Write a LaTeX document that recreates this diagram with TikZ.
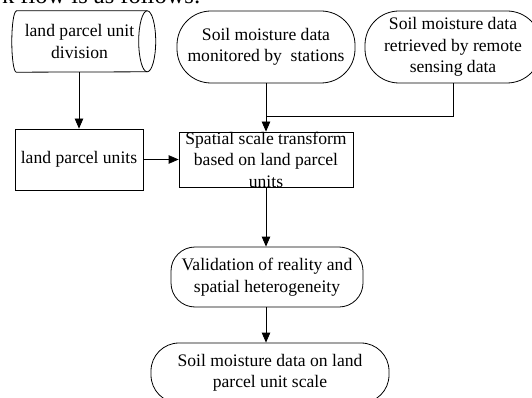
\documentclass[tikz,border=0pt]{standalone}
\usepackage{fontspec}
\setmainfont{Liberation Serif}
\usetikzlibrary{arrows.meta}
\begin{document}
\begin{tikzpicture}[x=1pt,y=-1pt,
  every node/.style={font=\fontsize{17.6}{21.5}\selectfont, align=center, inner sep=0pt},
  ln/.style={line width=0.8pt},
  arr/.style={ln,-{Triangle[length=10pt,width=8.5pt]}},
  boxnode/.style={draw,ln},
  stadium/.style={draw,ln,rounded corners=#1},
]
\useasboundingbox (0,0) rectangle (532,398);

% cut-off caption line at the top
\node[anchor=base east,font=\fontsize{24.5}{29}\selectfont] (cap) at (201,4) {work flow is as follows:};

% cylinder (land parcel unit division)
\node[minimum width=135pt,minimum height=61pt] (cyl) at (79.5,41.5) {land parcel unit\\division};
\draw[ln] ([xshift=4.5pt]cyl.north west) -- (cyl.north east)
  arc[start angle=90,end angle=-90,x radius=8.5pt,y radius=30.5pt]
  -- ([xshift=4.5pt]cyl.south west)
  arc[start angle=270,end angle=90,x radius=4.5pt,y radius=30.5pt] -- cycle;
\draw[ln] (cyl.north east) arc[start angle=90,end angle=270,x radius=8.5pt,y radius=30.5pt];

% stadium inputs
\node[stadium=34pt,minimum width=178pt,minimum height=72pt] (st2) at (266,47)
  {Soil moisture data\\monitored by\ \ stations};
\node[stadium=34pt,minimum width=176pt,minimum height=72pt] (st3) at (453,47)
  {Soil moisture data\\retrieved by remote\\sensing data};

% boxes
\node[boxnode,minimum width=128pt,minimum height=61pt] (lpu) at (79,159.5) {land parcel units};
\node[boxnode,minimum width=174pt,minimum height=55pt] (sp) at (266,159.5) {};
\node (sptext) at (sp.center) {Spatial scale transform\\based on land parcel\\units};

% lower stadiums
\node[stadium=24pt,minimum width=192pt,minimum height=60pt] (val) at (267,277)
  {Validation of reality and\\spatial heterogeneity};
\node[stadium=28pt,minimum width=238pt,minimum height=60pt] (fin) at (270,373)
  {Soil moisture data on land\\parcel unit scale};

% connectors
\coordinate (j) at (266,116);
\draw[arr] (lpu.north |- cyl.south) -- (lpu.north);
\draw[arr] (st2.south) -- (sp.north);
\draw[ln] (st3.south) |- (j);
\draw[arr] (lpu.east) -- (sp.west);
\draw[arr] (sp.south) -- (sp.south |- val.north);
\draw[arr] (sp.south |- val.south) -- (sp.south |- fin.north);
\end{tikzpicture}
\end{document}
